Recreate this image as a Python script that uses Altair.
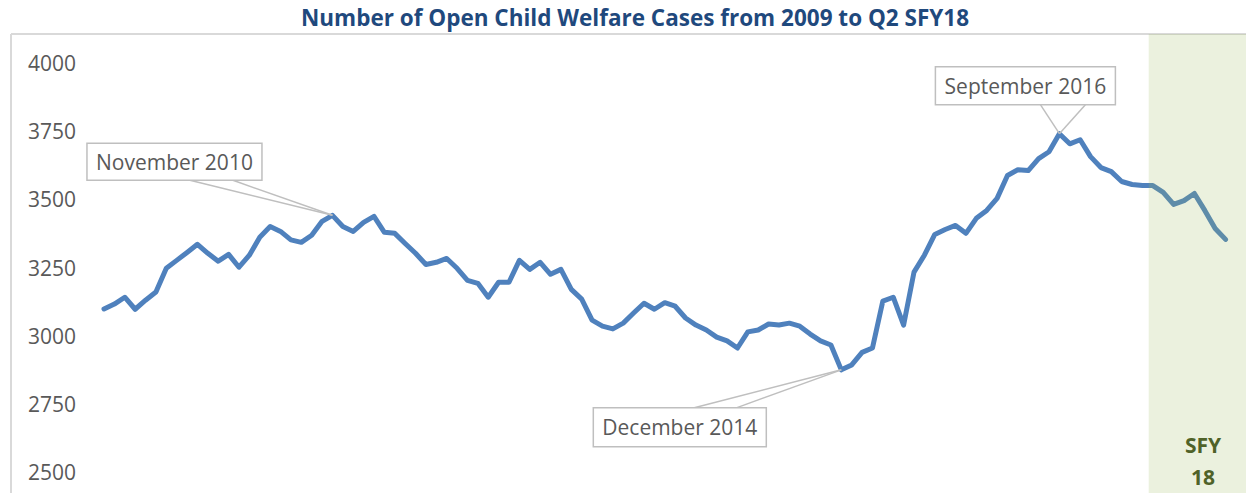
import altair as alt
import pandas as pd

# ---------------- data ----------------
month_index = list(range(109))  # monthly, starting January 2009
cases = [
    3099, 3117, 3142, 3098, 3131, 3161, 3248, 3277, 3306, 3336,
    3303, 3274, 3299, 3252, 3296, 3362, 3401, 3383, 3352, 3343,
    3369, 3420, 3442, 3401, 3383, 3416, 3438, 3380, 3376, 3339,
    3303, 3262, 3270, 3284, 3248, 3204, 3193, 3142, 3197, 3197,
    3277, 3244, 3270, 3226, 3244, 3171, 3135, 3058, 3036, 3026,
    3047, 3084, 3120, 3098, 3122, 3109, 3066, 3040, 3022, 2996,
    2982, 2956, 3015, 3022, 3044, 3040, 3047, 3036, 3007, 2982,
    2967, 2876, 2894, 2940, 2956, 3128, 3142, 3040, 3234, 3296,
    3372, 3390, 3405, 3376, 3431, 3460, 3504, 3588, 3609, 3606,
    3650, 3675, 3741, 3704, 3719, 3657, 3617, 3602, 3566, 3555,
    3551, 3551, 3526, 3482, 3496, 3522, 3460, 3394, 3354,
]
y_ticks = [2500, 2750, 3000, 3250, 3500, 3750, 4000]
callout_labels = ["November 2010", "December 2014", "September 2016"]
callout_month = [22, 71, 92]
band_start = 100.6
band_label = ["SFY", "18"]
title_text = "Number of Open Child Welfare Cases from 2009 to Q2 SFY18"

# ---------------- layout ----------------
W, H = 1235, 459
X0, X1 = -8.955, 109.97
Y0, Y1 = 2424.9, 4106.2
PX_X = W / (X1 - X0)
PX_Y = H / (Y1 - Y0)

FONT = "Open Sans"
GREY_TXT = "#595959"

# callout geometry in pixels relative to anchor: box centre offset, size, leader starts
callout_geom = [
    dict(ox=-158, oy=-53.5, w=175, h=37, l1=(15.5, 18.5), l2=(58.5, 18.5)),
    dict(ox=-161.5, oy=57.5, w=173, h=39, l1=(14.5, -19.5), l2=(56.5, -19.5)),
    dict(ox=-34, oy=-48, w=180, h=38, l1=(15, 19), l2=(60, 19)),
]

xs = alt.Scale(domain=[X0, X1], nice=False, zero=False)
ys = alt.Scale(domain=[Y0, Y1], nice=False, zero=False)

df = pd.DataFrame({"m": month_index, "v": cases})

boxes, leaders, labels = [], [], []
for lab, mi, g in zip(callout_labels, callout_month, callout_geom):
    v = cases[mi]
    cx = mi + g["ox"] / PX_X
    cy = v - g["oy"] / PX_Y
    boxes.append(dict(x=cx - g["w"] / 2 / PX_X, x2=cx + g["w"] / 2 / PX_X,
                      y=cy + g["h"] / 2 / PX_Y, y2=cy - g["h"] / 2 / PX_Y))
    labels.append(dict(x=cx, y=cy, t=lab))
    for lx, ly in (g["l1"], g["l2"]):
        leaders.append(dict(x=mi + (g["ox"] + lx) / PX_X,
                            y=v - (g["oy"] + ly) / PX_Y, x2=mi, y2=v))
boxes = pd.DataFrame(boxes)
leaders = pd.DataFrame(leaders)
labels = pd.DataFrame(labels)

base = alt.Chart(df)

frame_left = alt.Chart(pd.DataFrame({"a": [0]})).mark_rule(color="#D9D9D9", strokeWidth=2).encode(
    x=alt.value(0), y=alt.value(0), y2=alt.value(H))
frame_top = alt.Chart(pd.DataFrame({"a": [0]})).mark_rule(color="#D9D9D9", strokeWidth=2).encode(
    x=alt.value(0), x2=alt.value(W), y=alt.value(0))

line = base.mark_line(color="#4F81BD", strokeWidth=5, strokeCap="round", strokeJoin="round").encode(
    x=alt.X("m:Q", scale=xs, axis=None),
    y=alt.Y("v:Q", scale=ys, axis=None),
)

band = alt.Chart(pd.DataFrame({"x": [band_start], "x2": [X1]})).mark_rect(
    color="#9BBB59", opacity=0.2).encode(
    x=alt.X("x:Q", scale=xs), x2="x2:Q", y=alt.value(0), y2=alt.value(H))

lead = alt.Chart(leaders).mark_rule(color="#BFBFBF", strokeWidth=1.5).encode(
    x=alt.X("x:Q", scale=xs), x2="x2:Q", y=alt.Y("y:Q", scale=ys), y2="y2:Q")

box = alt.Chart(boxes).mark_rect(fill="white", stroke="#BFBFBF", strokeWidth=1.5).encode(
    x=alt.X("x:Q", scale=xs), x2="x2:Q", y=alt.Y("y:Q", scale=ys), y2="y2:Q")

box_txt = alt.Chart(labels).mark_text(font=FONT, fontSize=21, color=GREY_TXT,
                                      align="center", baseline="middle", dy=2).encode(
    x=alt.X("x:Q", scale=xs), y=alt.Y("y:Q", scale=ys), text="t:N")

ytxt = alt.Chart(pd.DataFrame({"v": y_ticks})).mark_text(
    font=FONT, fontSize=21, color=GREY_TXT, align="right", baseline="middle", dy=2).encode(
    x=alt.value(65), y=alt.Y("v:Q", scale=ys), text=alt.Text("v:Q", format="d"))

sfy = alt.Chart(pd.DataFrame({"t": band_label, "py": [413, 445]})).mark_text(
    font=FONT, fontSize=21, fontWeight="bold", color="#4F6228",
    align="center", baseline="middle").encode(
    x=alt.value(1192), y=alt.Y("py:Q", scale=None), text="t:N")

title = alt.Chart(pd.DataFrame({"t": [title_text]})).mark_text(
    font=FONT, fontSize=22.5, fontWeight="bold", color="#1F497D",
    align="center", baseline="middle").encode(
    x=alt.value(624), y=alt.value(-15), text="t:N")

chart = alt.layer(frame_left, frame_top, line, band, lead, box, box_txt, ytxt, sfy, title).properties(
    width=W, height=H,
    padding={"left": 3, "top": 26, "right": 0, "bottom": 0},
    autosize=alt.AutoSizeParams(type="none"),
    background="white",
).configure_view(strokeWidth=0)

chart.save("out.html", embed_options={"renderer": "svg", "actions": False})
